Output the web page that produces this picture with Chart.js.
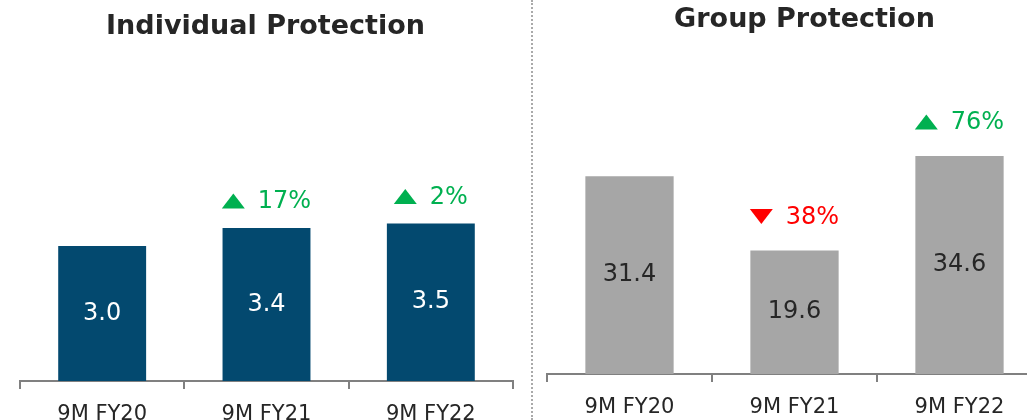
<!DOCTYPE html>
<html>
<head>
<meta charset="utf-8">
<script src="https://cdn.jsdelivr.net/npm/chart.js@4"></script>
<style>
  html, body { margin: 0; padding: 0; background: #fff; overflow: hidden; }
  #wrap { position: relative; width: 1027px; height: 420px; overflow: hidden; }
  #left { position: absolute; left: 0; top: 0; }
  #right { position: absolute; left: 532px; top: 0; }
  #divider { position: absolute; left: 531px; top: 0; height: 420px; border-left: 2px dotted #aaa; }
</style>
</head>
<body>
<div id="wrap">
  <canvas id="left" width="532" height="420"></canvas>
  <div id="divider"></div>
  <canvas id="right" width="530" height="420"></canvas>
</div>
<script>
const periods = ['9M FY20', '9M FY21', '9M FY22'];
const individualValues = [3.0, 3.4, 3.5];
const individualChange = [null, 17, 2];
const groupValues = [31.4, 19.6, 34.6];
const groupChange = [null, -38, 76];

const FONT = '"DejaVu Sans", Verdana, sans-serif';
const GREEN = '#00b050';
const RED = '#ff0000';

// draws value inside bars and growth marker above them
const barLabels = {
  id: 'barLabels',
  afterDatasetsDraw(chart, args, opts) {
    const ctx = chart.ctx;
    const meta = chart.getDatasetMeta(0);
    const values = chart.data.datasets[0].data;
    ctx.save();
    ctx.font = '24px ' + FONT;
    meta.data.forEach((bar, i) => {
      // value in middle of bar
      ctx.fillStyle = opts.valueColor;
      ctx.textAlign = 'center';
      ctx.textBaseline = 'middle';
      ctx.fillText(values[i].toFixed(1), bar.x, (bar.y + bar.base) / 2);

      const ch = opts.change[i];
      if (ch === null) return;
      const txt = Math.abs(ch) + '%';
      const tw = ctx.measureText(txt).width;
      const triW = 23, triH = 15, gap = 13;
      const total = triW + gap + tw;
      const x0 = bar.x - total / 2;
      const cy = bar.y - opts.offset;
      const up = ch > 0;
      ctx.fillStyle = up ? GREEN : RED;
      ctx.beginPath();
      if (up) {
        ctx.moveTo(x0, cy + triH / 2);
        ctx.lineTo(x0 + triW, cy + triH / 2);
        ctx.lineTo(x0 + triW / 2, cy - triH / 2);
      } else {
        ctx.moveTo(x0, cy - triH / 2);
        ctx.lineTo(x0 + triW, cy - triH / 2);
        ctx.lineTo(x0 + triW / 2, cy + triH / 2);
      }
      ctx.closePath();
      ctx.fill();
      ctx.textAlign = 'left';
      ctx.fillText(txt, x0 + triW + gap, cy + 1);
    });
    ctx.restore();
  }
};

function makeChart(id, title, values, change, color, valueColor, yMax, titlePad, xHeight, padLeft, padRight, yPos, yGap, offset) {
  return new Chart(document.getElementById(id), {
    type: 'bar',
    data: {
      labels: periods,
      datasets: [{
        data: values,
        backgroundColor: color,
        borderWidth: 0,
        categoryPercentage: 1,
        barPercentage: 0.535
      }]
    },
    options: {
      responsive: false,
      animation: false,
      events: [],
      layout: { padding: { left: padLeft, right: padRight, top: 0, bottom: 0 } },
      plugins: {
        legend: { display: false },
        tooltip: { enabled: false },
        title: {
          display: true,
          text: title,
          color: '#262626',
          font: { family: FONT, size: 27, weight: 'bold', lineHeight: 1.2 },
          padding: titlePad
        },
        barLabels: { change: change, valueColor: valueColor, offset: offset }
      },
      scales: {
        x: {
          afterFit(scale) { scale.height = xHeight; },
          border: { display: true, color: '#808080', width: 2 },
          grid: {
            offset: true,
            drawOnChartArea: false,
            drawTicks: true,
            tickLength: 8,
            color: '#808080',
            lineWidth: 2
          },
          ticks: {
            color: '#262626',
            padding: 13,
            font: { family: FONT, size: 21 }
          }
        },
        y: {
          position: yPos,
          min: 0,
          max: yMax,
          afterFit(scale) { scale.width = yGap; },
          grid: { display: false },
          border: { display: false },
          ticks: { display: false }
        }
      }
    },
    plugins: [barLabels]
  });
}

makeChart('left', 'Individual Protection', individualValues, individualChange,
  '#03496f', '#ffffff', 7, { top: 11, bottom: 22.6 }, 39, 18, 19, 'left', 2, 27);
makeChart('right', 'Group Protection', groupValues, groupChange,
  '#a6a6a6', '#262626', 50, { top: 4, bottom: 22.6 }, 46, 15, 0, 'right', 20, 34);
</script>
</body>
</html>
